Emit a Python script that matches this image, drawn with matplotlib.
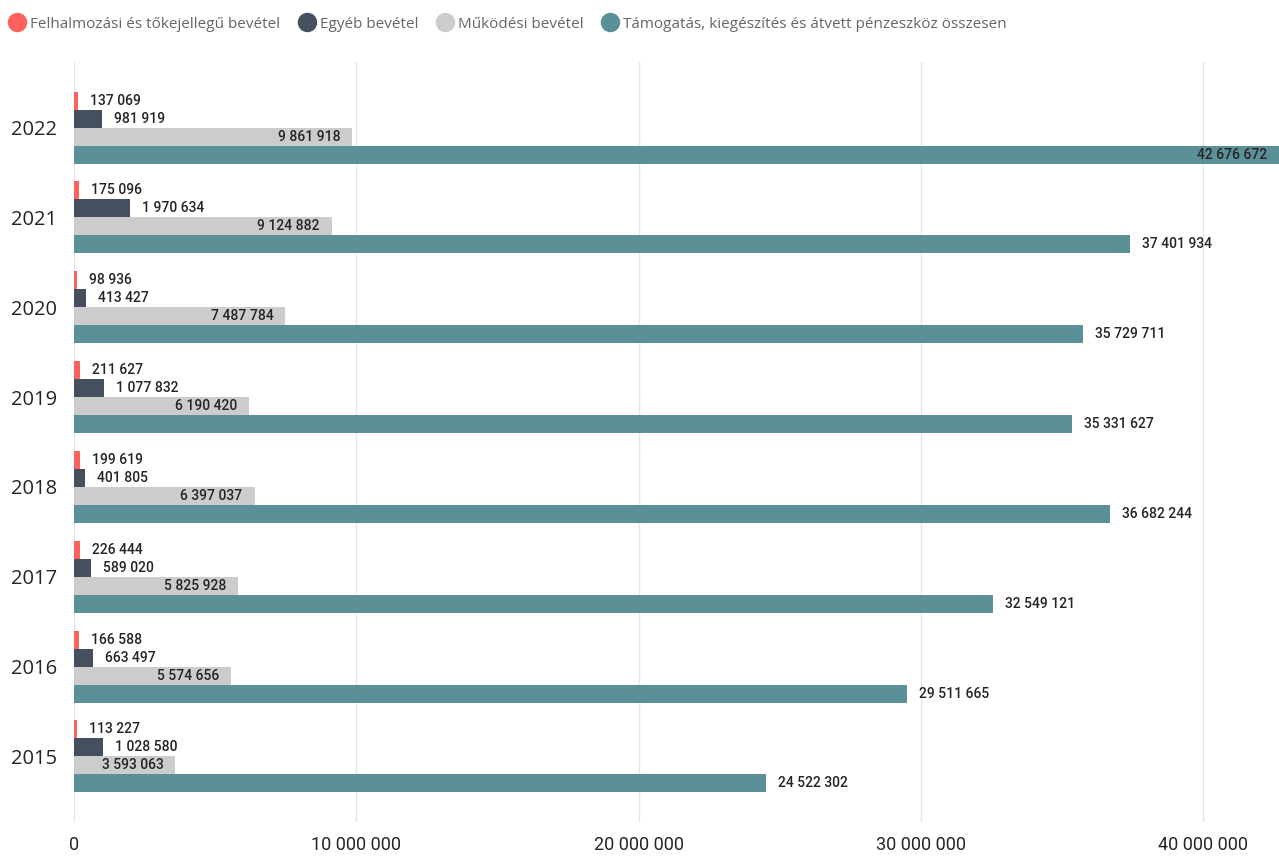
import matplotlib.pyplot as plt
from matplotlib.lines import Line2D

years = ['2015', '2016', '2017', '2018', '2019', '2020', '2021', '2022']

felhalmozasi = [113227, 166588, 226444, 199619, 211627, 98936, 175096, 137069]
egyeb = [1028580, 663497, 589020, 401805, 1077832, 413427, 1970634, 981919]
mukodesi = [3593063, 5574656, 5825928, 6397037, 6190420, 7487784, 9124882, 9861918]
tamogatas = [24522302, 29511665, 32549121, 36682244, 35331627, 35729711, 37401934, 42676672]

series_names = ['Felhalmozási és tőkejellegű bevétel', 'Egyéb bevétel',
                'Működési bevétel', 'Támogatás, kiegészítés és átvett pénzeszköz összesen']
colors = ['#FD625E', '#45505F', '#CCCCCC', '#5B9098']

XMAX = max(tamogatas)


def fmt(v):
    return f'{v:,}'.replace(',', ' ')


fig = plt.figure(figsize=(12.79, 8.56), dpi=100)
ax = fig.add_axes([74 / 1279, 1 - 822 / 856, 1 - 74 / 1279, (822 - 62) / 856])

h = 0.2
offsets = [0.3, 0.1, -0.1, -0.3]
all_series = [felhalmozasi, egyeb, mukodesi, tamogatas]
pos = list(range(len(years)))

# px -> data units for label padding
px = XMAX / (1279 - 74)
pad = 12 * px

for k, (vals, col) in enumerate(zip(all_series, colors)):
    ys = [p + offsets[k] for p in pos]
    ax.barh(ys, vals, height=h, color=col, zorder=2)
    for y, v in zip(ys, vals):
        inside = (k == 2) or (v + pad + 75 * px > XMAX)
        if inside:
            ax.text(v - pad, y, fmt(v), ha='right', va='center', fontsize=10,
                    family='Roboto', fontweight='medium', color='#252423', zorder=3)
        else:
            ax.text(v + pad, y, fmt(v), ha='left', va='center', fontsize=10,
                    family='Roboto', fontweight='medium', color='#252423', zorder=3)

ax.set_xlim(0, XMAX)
ax.set_ylim(-0.73, 7.73)
ax.set_yticks(pos)
ax.set_yticklabels(years, fontsize=14.5, family='Open Sans', color='#252423')
xt = [0, 10000000, 20000000, 30000000, 40000000]
ax.set_xticks(xt)
ax.set_xticklabels([fmt(v) for v in xt], fontsize=13, family='Roboto', color='#252423')
ax.tick_params(length=0)
ax.tick_params(axis='x', pad=10)
ax.tick_params(axis='y', pad=12)
ax.grid(axis='x', color='#E6E6E6', linewidth=1, zorder=0)
for s in ax.spines.values():
    s.set_visible(False)

handles = [Line2D([], [], marker='o', linestyle='', markersize=13, color=c) for c in colors]
fig.legend(handles, series_names, loc='upper left', bbox_to_anchor=(-0.007, 0.993), ncol=4,
           frameon=False, handletextpad=-0.15, columnspacing=0.75, borderaxespad=0.3,
           prop={'family': 'Open Sans', 'size': 11}, labelcolor='#666666')

fig.savefig('out.png', dpi=100)
